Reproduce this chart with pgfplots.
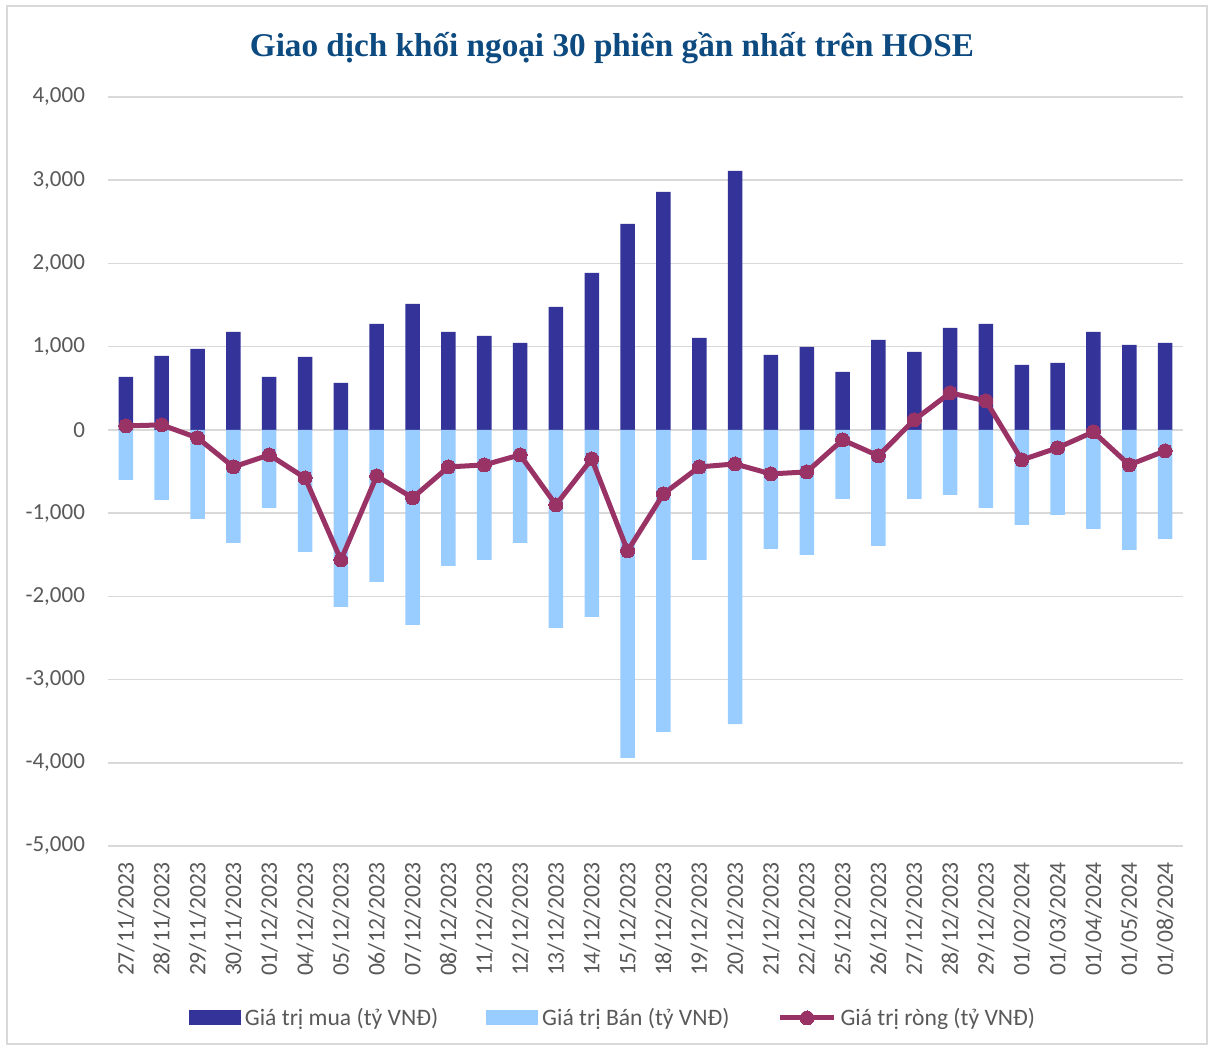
\documentclass[border=0pt]{standalone}
\usepackage{pgfplots}
\pgfplotsset{compat=1.18}
\usepackage{fontspec}
\setmainfont{Carlito}
\newfontfamily\titlefont{Liberation Serif}
\definecolor{buyc}{RGB}{51,51,153}
\definecolor{sellc}{RGB}{153,204,255}
\definecolor{netc}{RGB}{153,51,102}
\definecolor{titlec}{RGB}{12,74,128}
\definecolor{gridc}{RGB}{217,217,217}
\definecolor{labc}{RGB}{89,89,89}
\pgfplotsset{
  netleg/.style={legend image code/.code={\draw[##1,mark repeat=2,mark phase=2] plot coordinates {(0pt,0pt)(13.5pt,0pt)(27pt,0pt)};}},
  buyleg/.style={legend image code/.code={\fill[buyc] (0pt,-3.75pt) rectangle (26pt,3.75pt);}},
  sellleg/.style={legend image code/.code={\fill[sellc] (0pt,-3.75pt) rectangle (26pt,3.75pt);}},
}
\begin{document}
\begin{tikzpicture}
\path[use as bounding box] (-54pt,-102pt) rectangle (551pt,423pt);
\draw[color=gridc, line width=1pt] (-50.5pt,-99pt) rectangle (549.5pt,420pt);
\node[font=\titlefont\bfseries\fontsize{16.6}{19}\selectfont, text=titlec] at (252pt,399pt) {Giao dịch khối ngoại 30 phiên gần nhất trên HOSE};
\begin{axis}[
  at={(0pt,0pt)}, anchor=south west,
  scale only axis, width=537.5pt, height=374.5pt,
  xmin=-0.5, xmax=29.5, ymin=-5000, ymax=4000,
  ytick={-5000,-4000,...,4000},
  xtick={0,...,29},
  xticklabels={27/11/2023,28/11/2023,29/11/2023,30/11/2023,01/12/2023,04/12/2023,05/12/2023,06/12/2023,07/12/2023,08/12/2023,11/12/2023,12/12/2023,13/12/2023,14/12/2023,15/12/2023,18/12/2023,19/12/2023,20/12/2023,21/12/2023,22/12/2023,25/12/2023,26/12/2023,27/12/2023,28/12/2023,29/12/2023,01/02/2024,01/03/2024,01/04/2024,01/05/2024,01/08/2024},
  xticklabel style={rotate=90, anchor=east, font=\fontsize{11.8}{13}\selectfont, text=labc},
  xticklabel shift=4.5pt,
  yticklabel style={font=\fontsize{11.5}{13}\selectfont, text=labc},
  yticklabel shift=8pt,
  /pgf/number format/.cd, 1000 sep={,}, assume math mode=true, /pgfplots/.cd,
  axis line style={draw=none},
  major tick length=0pt,
  ymajorgrids, grid style={gridc, line width=0.75pt},
  legend columns=3,
  legend style={at={(0.4707,-0.2296)}, anchor=center, draw=none, fill=none,
    font=\fontsize{11.8}{13}\selectfont, text=labc,
    /tikz/every even column/.append style={column sep=22pt}},
]
\addplot[ybar, bar width=7.25pt, bar shift=0pt, fill=buyc, draw=none, buyleg]
coordinates {(0,637)(1,889)(2,973)(3,1178)(4,637)(5,877)(6,565)(7,1274)(8,1514)(9,1178)(10,1130)(11,1046)(12,1478)(13,1887)(14,2476)(15,2860)(16,1106)(17,3113)(18,901)(19,998)(20,697)(21,1082)(22,937)(23,1226)(24,1274)(25,781)(26,805)(27,1178)(28,1022)(29,1046)};
\addlegendentry{Giá trị mua (tỷ VNĐ)}
\addplot[ybar, bar width=7.25pt, bar shift=0pt, fill=sellc, draw=none, sellleg]
coordinates {(0,-601)(1,-841)(2,-1070)(3,-1358)(4,-937)(5,-1466)(6,-2127)(7,-1827)(8,-2344)(9,-1635)(10,-1563)(11,-1358)(12,-2380)(13,-2248)(14,-3942)(15,-3630)(16,-1563)(17,-3534)(18,-1430)(19,-1502)(20,-829)(21,-1394)(22,-829)(23,-781)(24,-937)(25,-1142)(26,-1022)(27,-1190)(28,-1442)(29,-1310)};
\addlegendentry{Giá trị Bán (tỷ VNĐ)}
\addplot[netc, line width=2.5pt, mark=*, mark size=3.5pt, mark options={fill=netc, draw=netc, line width=0pt}, netleg]
coordinates {(0,48)(1,60)(2,-96)(3,-445)(4,-300)(5,-577)(6,-1563)(7,-553)(8,-817)(9,-445)(10,-421)(11,-300)(12,-901)(13,-349)(14,-1454)(15,-769)(16,-445)(17,-409)(18,-529)(19,-505)(20,-120)(21,-312)(22,120)(23,445)(24,349)(25,-361)(26,-216)(27,-24)(28,-421)(29,-252)};
\addlegendentry{Giá trị ròng (tỷ VNĐ)}
\end{axis}
\end{tikzpicture}
\end{document}
